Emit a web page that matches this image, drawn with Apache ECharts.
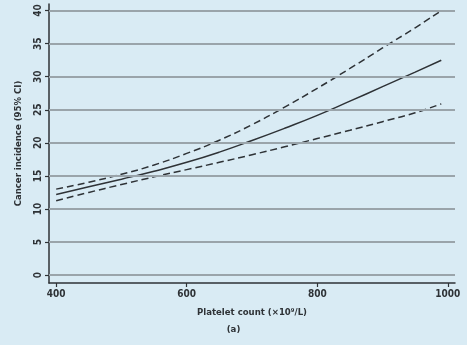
<!DOCTYPE html>
<html>
<head>
<meta charset="utf-8">
<script src="https://cdn.jsdelivr.net/npm/echarts@6/dist/echarts.min.js"></script>
<style>
html,body{margin:0;padding:0;background:#d9ebf4;}
#c{width:467px;height:345px;}
</style>
</head>
<body>
<div id="c"></div>
<script>
// Platelet count (×10⁹/L) sample points
const platelets = [400, 450, 500, 550, 600, 650, 700, 750, 800, 850, 900, 950, 990];
// Estimated cancer incidence and its 95% CI bounds
const incidence = [12.2, 13.35, 14.5, 15.7, 17.05, 18.6, 20.35, 22.2, 24.15, 26.3, 28.5, 30.7, 32.5];
const upperCI   = [13.0, 14.05, 15.25, 16.65, 18.4, 20.4, 22.75, 25.4, 28.25, 31.25, 34.35, 37.4, 40.0];
const lowerCI   = [11.25, 12.5, 13.7, 14.85, 15.95, 17.05, 18.2, 19.4, 20.65, 21.9, 23.2, 24.55, 25.9];
// Axis ticks
const xTicks = [400, 600, 800, 1000];
const yTicks = [0, 5, 10, 15, 20, 25, 30, 35, 40];

const font = '"Liberation Sans Narrow", "DejaVu Sans Condensed", sans-serif';
const ink = '#2e3236';
const pair = (xs, ys) => xs.map((x, i) => [x, ys[i]]);

const chart = echarts.init(document.getElementById('c'));
chart.setOption({
  backgroundColor: '#d9ebf4',
  animation: false,
  grid: { left: 49, right: 12, top: 4, bottom: 62 },
  xAxis: {
    type: 'value', min: 389, max: 1011,
    axisLine: { onZero: false, lineStyle: { color: ink, width: 1.5 } },
    axisTick: { customValues: xTicks, length: 4, lineStyle: { color: ink, width: 1.2 } },
    axisLabel: {
      customValues: xTicks, formatter: v => String(v),
      color: ink, fontFamily: font, fontWeight: 'bold', fontSize: 10, margin: 6
    },
    splitLine: { show: false },
    name: 'Platelet count (×10⁹/L)', nameLocation: 'middle', nameGap: 25,
    nameTextStyle: { color: ink, fontFamily: font, fontWeight: 'bold', fontSize: 9.5 }
  },
  yAxis: {
    type: 'value', min: -1.2, max: 41,
    axisLine: { lineStyle: { color: ink, width: 1.5 } },
    axisTick: { customValues: yTicks, length: 4, lineStyle: { color: ink, width: 1.2 } },
    axisLabel: {
      customValues: yTicks, formatter: v => String(v), rotate: 90,
      color: ink, fontFamily: font, fontWeight: 'bold', fontSize: 10, margin: 6
    },
    splitLine: { show: false },
    name: 'Cancer incidence (95% CI)', nameLocation: 'middle', nameGap: 25,
    nameTextStyle: { color: ink, fontFamily: font, fontWeight: 'bold', fontSize: 9.5 }
  },
  graphic: [{
    type: 'text', left: 'center', bottom: 10,
    style: { text: '(a)', fill: ink, font: 'bold 9.5px ' + font }
  }],
  series: [
    {
      type: 'line', data: pair(platelets, incidence), smooth: 0.5, symbol: 'none',
      lineStyle: { color: ink, width: 1.5 }, z: 3,
      markLine: {
        silent: true, symbol: 'none', label: { show: false },
        lineStyle: { color: '#9aa4aa', width: 2, type: 'solid' },
        data: yTicks.map(v => ({ yAxis: v }))
      }
    },
    {
      type: 'line', data: pair(platelets, upperCI), smooth: 0.5, symbol: 'none',
      lineStyle: { color: ink, width: 1.5, type: [7, 4] }, z: 3
    },
    {
      type: 'line', data: pair(platelets, lowerCI), smooth: 0.5, symbol: 'none',
      lineStyle: { color: ink, width: 1.5, type: [7, 4] }, z: 3
    }
  ]
});
</script>
</body>
</html>
